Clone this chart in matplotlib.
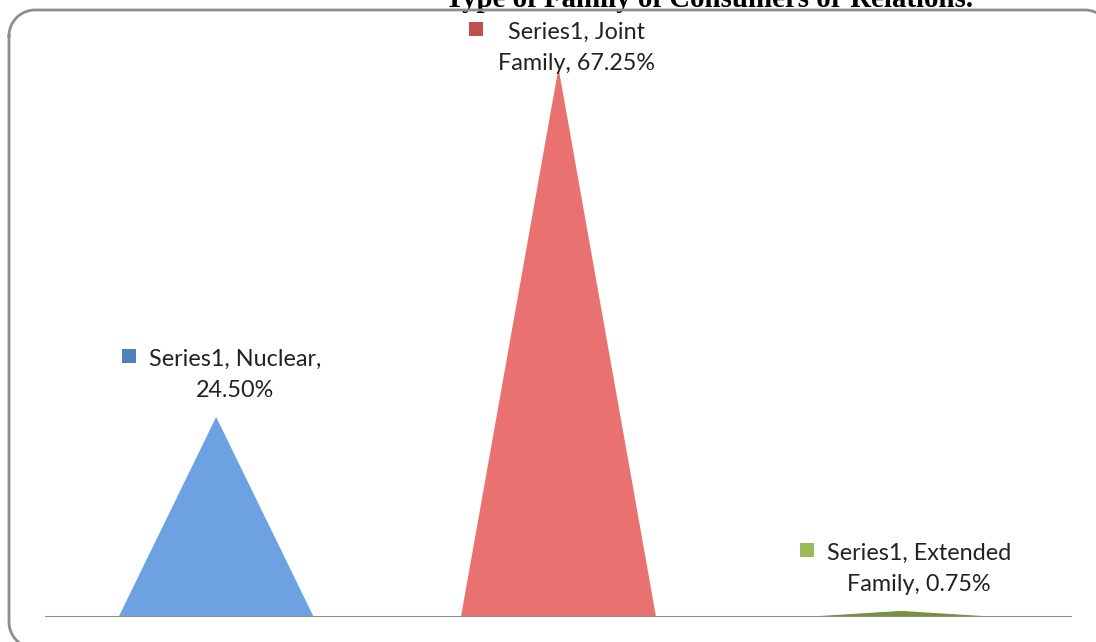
import matplotlib
matplotlib.use("Agg")
import numpy as np
import matplotlib.pyplot as plt
from matplotlib.patches import Polygon, Rectangle

categories = ["Nuclear", "Joint Family", "Extended Family"]
values = [24.50, 67.25, 0.75]
series_name = "Series1"
label_lines = [("Series1, Nuclear,", "24.50%"),
               ("Series1, Joint", "Family, 67.25%"),
               ("Series1, Extended", "Family, 0.75%")]
fill_colors = ["#6CA2E1", "#E97271", "#76933C"]
key_colors = ["#4F81BD", "#C0504D", "#9BBB59"]
title = "Type of Family of Consumers or Relations."

W, H = 1096, 642
fig = plt.figure(figsize=(W / 100, H / 100), dpi=100)

# pixel-space overlay (y measured from the top) for border and label keys
pix = fig.add_axes([0, 0, 1, 1], zorder=10)
pix.set_xlim(0, W)
pix.set_ylim(H, 0)
pix.axis("off")
pix.patch.set_alpha(0)

# rounded chart border
x0, y0, x1, y1, r = 9, 10, 1111, 648, 26
def arc(cx, cy, a0, a1):
    t = np.radians(np.linspace(a0, a1, 30))
    return cx + r * np.cos(t), cy + r * np.sin(t)
segs = [arc(x0 + r, y0 + r, 180, 270),
        arc(x1 - r, y0 + r, 270, 360),
        arc(x1 - r, y1 - r, 0, 90),
        arc(x0 + r, y1 - r, 90, 180)]
bx = np.concatenate([s[0] for s in segs] + [segs[0][0][:1]])
by = np.concatenate([s[1] for s in segs] + [segs[0][1][:1]])
pix.plot(bx, by, color="#8E8E8E", lw=2.0, solid_joinstyle="round")

ax_left, ax_right = 45, 1072
ax_bottom, ax_top = 617, 30
ax = fig.add_axes([ax_left / W, (H - ax_bottom) / H, (ax_right - ax_left) / W,
                   (ax_bottom - ax_top) / H])
px_per_unit = 200 / 24.5
ax.set_xlim(-0.5, len(categories) - 0.5)
ax.set_ylim(0, (ax_bottom - ax_top) / px_per_unit)
ax.axis("off")
ax.axhline(0, color="#8C8C8C", lw=2.2, zorder=5)

half = 0.285
for i, v in enumerate(values):
    tri = Polygon([(i - half, 0), (i, v), (i + half, 0)], closed=True,
                  facecolor=fill_colors[i], edgecolor="none", zorder=3)
    ax.add_patch(tri)

label_font = dict(family=["Lato", "DejaVu Sans"], fontsize=16.8, color="#222222")
offsets = [(19, 20), (18, -2), (18, 20)]
key_gaps = [27, 39, 27]
fig.canvas.draw()
for i, v in enumerate(values):
    dx, dy = offsets[i]
    l1, l2 = label_lines[i]
    ax.annotate(l2, xy=(i, v), xytext=(dx, dy), textcoords="offset pixels",
                ha="center", va="baseline", **label_font, zorder=6)
    t1 = ax.annotate(l1, xy=(i, v), xytext=(dx, dy + 31), textcoords="offset pixels",
                     ha="center", va="baseline", **label_font, zorder=6)
    fig.canvas.draw()
    bb = t1.get_window_extent()
    apex = ax.transData.transform((i, v))
    base_y_top = H - (apex[1] + dy + 31)
    pix.add_patch(Rectangle((bb.x0 - key_gaps[i], base_y_top - 17), 14, 14,
                            facecolor=key_colors[i], edgecolor="none"))

fig.text(709 / W, (H - 7) / H, title, ha="center", va="baseline",
         family="Liberation Serif", fontweight="bold", fontsize=20.8)

fig.savefig("out.png", dpi=100)
